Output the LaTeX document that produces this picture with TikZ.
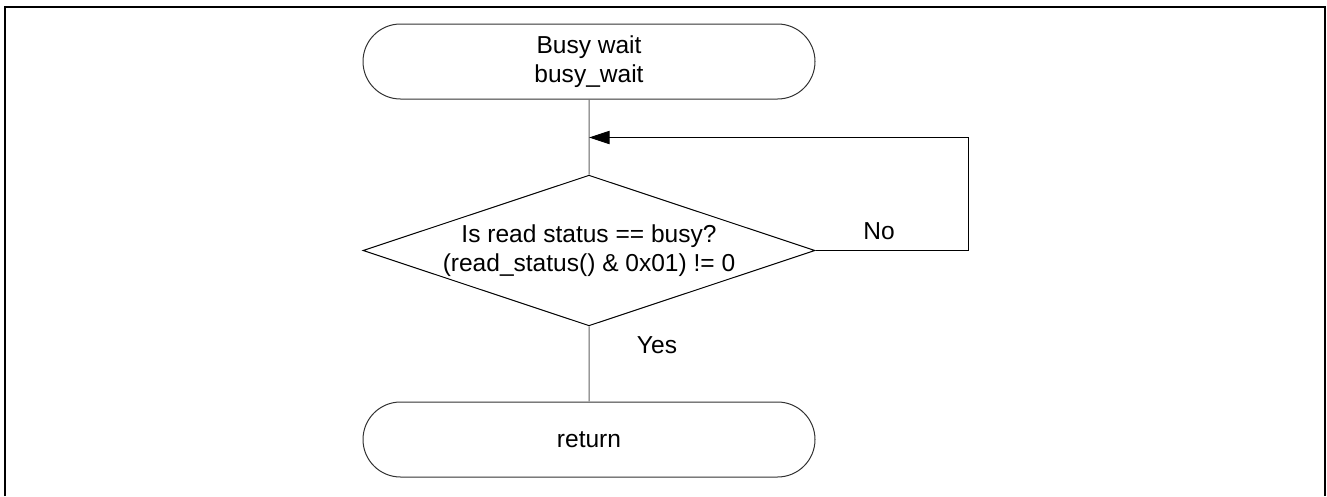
\documentclass[tikz,border=0pt]{standalone}
\usepackage{fontspec}
\setmainfont{Liberation Sans}
\usetikzlibrary{shapes.geometric,shapes.misc,arrows.meta}
\colorlet{flow}{black!62}
\tikzset{
  term/.style={rounded rectangle,draw=black!80,line width=.75pt,minimum width=339pt,minimum height=56.25pt,inner sep=0pt,align=center},
  decide/.style={diamond,aspect=3,draw=black,line width=.75pt,minimum width=339pt,minimum height=113pt,inner sep=0pt,align=center},
  fline/.style={draw=flow,line width=.75pt},
  lbl/.style={inner sep=0pt}
}

\begin{document}
\begin{tikzpicture}[x=0.75pt,y=-0.75pt,font=\fontsize{18.4pt}{21.5pt}\selectfont]
  \useasboundingbox (0,0) rectangle (1327,496);
  \draw[line width=1.5pt] (5,496) -- (5,6.5) -- (1325,6.5) -- (1325,496);
  \node[term] (start) at (589,61.5) {Busy wait\\busy\_wait};
  \node[decide] (busy) at (589,250.5) {Is read status == busy?\\(read\_status() \& 0x01) != 0};
  \node[term] (ret) at (589,439.5) {return};
  \coordinate (join) at (589,137.5);
  \draw[fline] (start) -- (busy);
  \draw[fline] (busy) -- (ret);
  \draw[line width=.75pt,-{Triangle[length=15.5pt,width=10pt]}] (busy.east) -- ++(153,0) |- (join);
  \node[lbl] (no) at (879,231) {No};
  \node[lbl] (yes) at (657,345) {Yes};
\end{tikzpicture}
\end{document}
